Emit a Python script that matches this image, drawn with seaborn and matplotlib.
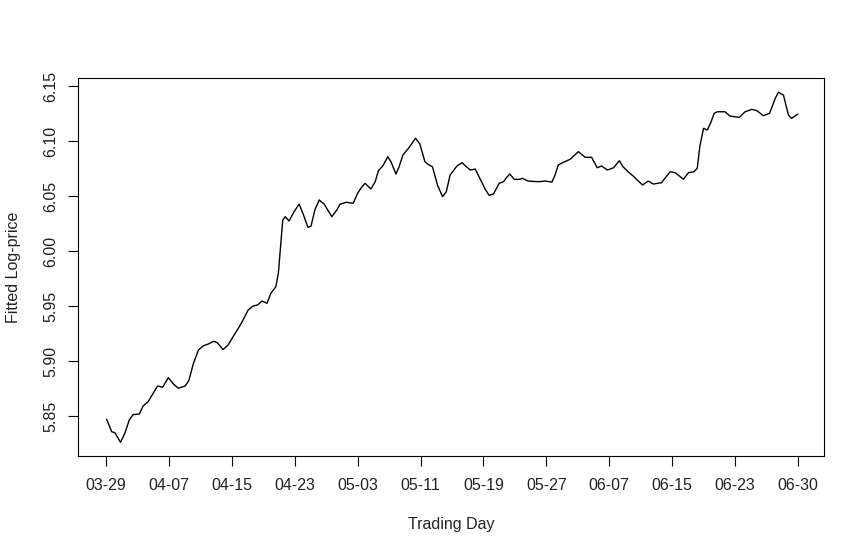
import numpy as np
import pandas as pd
import seaborn as sns
import matplotlib
matplotlib.use("Agg")
import matplotlib.pyplot as plt

# 交易日位置（以刻度间隔为单位）与拟合对数价格
day_pos = [0.01, 0.09, 0.14, 0.23, 0.30, 0.37, 0.43, 0.53, 0.59, 0.67,
           0.75, 0.82, 0.90, 0.99, 1.07, 1.15, 1.26, 1.32, 1.39, 1.47,
           1.55, 1.63, 1.71, 1.77, 1.86, 1.94, 2.02, 2.12, 2.18, 2.26,
           2.34, 2.41, 2.48, 2.56, 2.62, 2.70, 2.74, 2.78, 2.81, 2.85,
           2.91, 2.99, 3.07, 3.14, 3.21, 3.26, 3.32, 3.39, 3.47, 3.59,
           3.67, 3.72, 3.82, 3.93, 4.00, 4.07, 4.12, 4.21, 4.28, 4.33,
           4.40, 4.48, 4.53, 4.61, 4.66, 4.72, 4.81, 4.92, 4.99, 5.07,
           5.12, 5.19, 5.27, 5.35, 5.41, 5.47, 5.58, 5.66, 5.73, 5.79,
           5.87, 5.95, 6.03, 6.09, 6.16, 6.25, 6.32, 6.37, 6.42, 6.49,
           6.58, 6.62, 6.71, 6.87, 6.98, 7.09, 7.14, 7.19, 7.27, 7.38,
           7.51, 7.62, 7.72, 7.81, 7.88, 7.97, 8.07, 8.16, 8.22, 8.30,
           8.38, 8.53, 8.62, 8.70, 8.83, 8.97, 9.05, 9.18, 9.26, 9.35,
           9.40, 9.44, 9.50, 9.56, 9.61, 9.67, 9.72, 9.84, 9.92, 10.07,
           10.16, 10.27, 10.35, 10.45, 10.55, 10.64, 10.69, 10.77, 10.85, 10.90,
           10.95, 11.00]
log_price = [5.8470, 5.8357, 5.8348, 5.8261, 5.8343, 5.8464, 5.8512, 5.8518, 5.8591, 5.8630,
             5.8706, 5.8773, 5.8761, 5.8848, 5.8791, 5.8752, 5.8773, 5.8827, 5.8979, 5.9100,
             5.9139, 5.9155, 5.9179, 5.9166, 5.9103, 5.9145, 5.9221, 5.9312, 5.9373, 5.9464,
             5.9500, 5.9509, 5.9545, 5.9525, 5.9615, 5.9675, 5.9797, 6.0070, 6.0282, 6.0312,
             6.0273, 6.0357, 6.0427, 6.0327, 6.0215, 6.0227, 6.0373, 6.0464, 6.0425, 6.0312,
             6.0373, 6.0425, 6.0443, 6.0434, 6.0525, 6.0585, 6.0615, 6.0564, 6.0630, 6.0730,
             6.0773, 6.0857, 6.0812, 6.0700, 6.0766, 6.0873, 6.0934, 6.1025, 6.0973, 6.0812,
             6.0788, 6.0766, 6.0600, 6.0494, 6.0539, 6.0691, 6.0773, 6.0803, 6.0766, 6.0736,
             6.0745, 6.0652, 6.0561, 6.0506, 6.0518, 6.0615, 6.0630, 6.0670, 6.0700, 6.0652,
             6.0652, 6.0661, 6.0636, 6.0630, 6.0636, 6.0627, 6.0691, 6.0782, 6.0806, 6.0834,
             6.0903, 6.0852, 6.0852, 6.0757, 6.0773, 6.0736, 6.0757, 6.0821, 6.0766, 6.0721,
             6.0682, 6.0600, 6.0636, 6.0609, 6.0621, 6.0721, 6.0712, 6.0652, 6.0712, 6.0721,
             6.0752, 6.0948, 6.1115, 6.1100, 6.1161, 6.1252, 6.1266, 6.1266, 6.1227, 6.1215,
             6.1266, 6.1288, 6.1275, 6.1230, 6.1252, 6.1388, 6.1443, 6.1418, 6.1236, 6.1206,
             6.1227, 6.1245]

tick_labels = ['03-29', '04-07', '04-15', '04-23', '05-03', '05-11',
               '05-19', '05-27', '06-07', '06-15', '06-23', '06-30']
y_ticks = [5.85, 5.90, 5.95, 6.00, 6.05, 6.10, 6.15]

df = pd.DataFrame({'pos': day_pos, 'price': log_price})

sns.set_style("ticks")
plt.rcParams['font.family'] = ['Liberation Sans', 'DejaVu Sans']

fig = plt.figure(figsize=(8.65, 5.54), dpi=100)
ax = fig.add_axes([0.0902, 0.1769, 0.8624, 0.6823])

sns.lineplot(data=df, x='pos', y='price', color='black', linewidth=1.0,
             estimator=None, sort=False, ax=ax)

ax.set_xlim(-0.445, 11.415)
ax.set_ylim(5.8136, 6.1573)
ax.set_xticks(range(len(tick_labels)))
ax.set_xticklabels(tick_labels)
ax.set_yticks(y_ticks)
ax.set_yticklabels([f'{v:.2f}' for v in y_ticks], rotation=90, va='center')

ax.tick_params(axis='both', direction='out', length=7, width=0.8,
               color='black', labelsize=11.5, labelcolor='#222222')
ax.tick_params(axis='x', pad=9)
ax.tick_params(axis='y', pad=7.5)
for s in ax.spines.values():
    s.set_visible(True)
    s.set_color('black')
    s.set_linewidth(0.8)

ax.set_xlabel('Trading Day', fontsize=11.5, color='#222222', labelpad=17)
ax.set_ylabel('Fitted Log-price', fontsize=11.5, color='#222222', labelpad=16)

fig.savefig('out.png', dpi=100)
